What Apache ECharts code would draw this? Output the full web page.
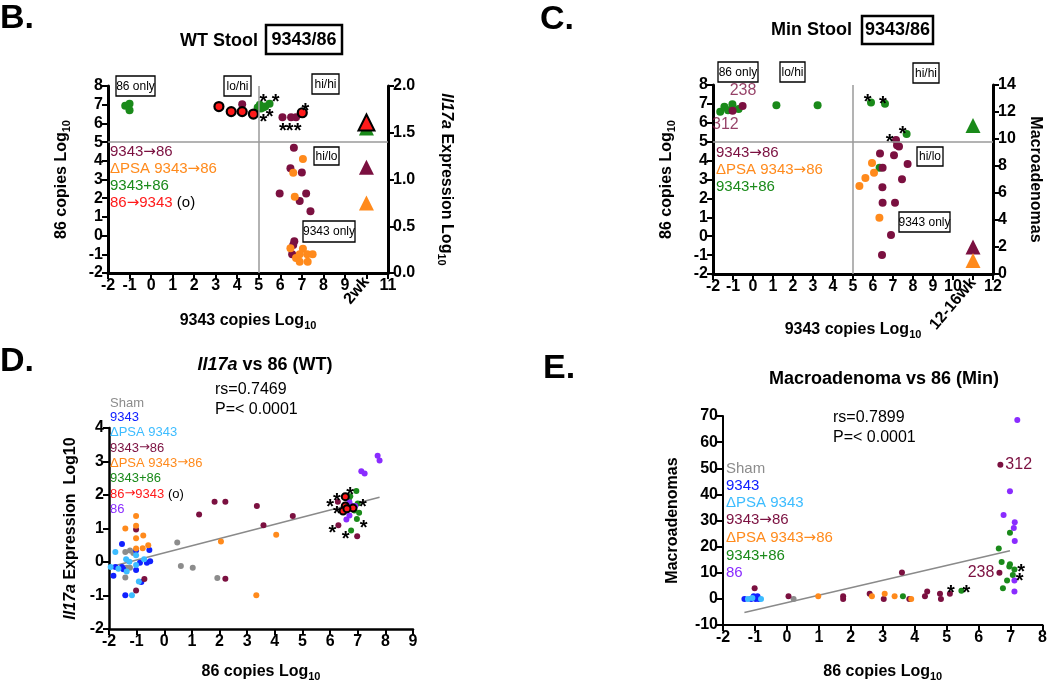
<!DOCTYPE html>
<html><head><meta charset="utf-8">
<script src="https://cdn.jsdelivr.net/npm/echarts@6/dist/echarts.min.js"></script>
<style>html,body{margin:0;padding:0;background:#fff}#c{width:1050px;height:683px}</style>
</head><body><div id="c"></div>
<script>
// ---------------- DATA ----------------
// Panel B (WT stool): x = 9343 copies log10, y = 86 copies log10
const bMaroon = [[4.23,7.03],[6.1,6.33],[6.5,6.33],[6.73,6.33],[6.63,4.7],[6.47,3.6],[7.0,3.38],[5.97,2.25],[7.2,2.25],[6.9,1.85],[7.4,1.3],[6.65,-0.3],[6.6,-0.5],[6.55,-1.0]];
const bOrange = [[7.05,4.1],[6.6,3.36],[6.67,2.08],[6.47,-0.68],[7.05,-0.7],[6.9,-1.0],[6.73,-1.2],[6.9,-1.4],[7.25,-1.0],[7.5,-1.0],[7.27,-1.4]];
const bGreen = [[-1.2,6.95],[-1.0,7.05],[-1.0,6.7],[4.95,6.85],[5.05,7.0],[5.1,6.8],[5.2,6.85],[5.3,6.9],[5.5,7.05]];
const bRed = [[3.15,6.9],[3.72,6.63],[4.23,6.63],[4.75,6.5],[7.02,6.57]];
const bStars = [[5.22,7.43],[5.78,7.43],[5.22,6.36],[5.5,6.63],[6.12,5.91],[6.43,5.91],[6.8,5.91],[7.16,6.98]];
// Il17a expression (right axis) at 2wk
const bTriX = 10;
const bTriGreen = 1.55, bTriRed = 1.61, bTriMaroon = 1.13, bTriOrange = 0.75;
const bXLabelSpecial = {10: '2wk'};

// Panel C (Min stool)
const cGreen = [[-1.64,6.59],[-1.43,6.85],[-1.25,6.67],[-1.03,6.98],[-0.72,6.73],[1.17,6.93],[3.23,6.93],[5.9,7.08],[6.6,7.01],[7.68,5.41],[6.33,3.62]];
const cMaroon = [[-1.02,6.64],[-0.52,6.89],[7.15,5.09],[7.2,4.81],[7.3,4.74],[6.35,4.37],[7.05,4.28],[7.73,3.82],[6.48,3.62],[7.45,3.01],[6.47,2.59],[6.48,1.77],[7.1,1.77],[6.9,0.06],[6.45,-1.0]];
const cOrange = [[5.95,3.87],[6.05,3.36],[5.62,3.08],[5.32,2.66],[6.32,0.98]];
const cStars = [[5.73,7.38],[6.5,7.28],[7.48,5.71],[6.83,5.25]];
const cTags = [[-0.5,7.68,'238'],[-1.38,5.88,'312']];
// Macroadenomas (right axis) at 12-16wk
const cTriX = 11;
const cTriGreen = 11, cTriMaroon = 2, cTriOrange = 1;
const cXLabelSpecial = {11: '12-16wk'};

// Panel D (Il17a vs 86, WT)
const dSham = [[-1.41,0.3],[-1.24,0.34],[-1.12,0.27],[-1.36,-0.17],[-1.24,-0.17],[-1.41,-0.46],[0.47,0.58],[0.6,-0.12],[1.03,-0.17],[1.92,-0.48]];
const d9343 = [[-1.53,0.54],[-0.54,0.36],[-1.02,0.34],[-0.88,-0.02],[-0.63,-0.02],[-0.51,0.02],[-1.77,-0.15],[-1.53,-0.15],[-1.48,-0.22],[-1.02,-0.24],[-1.84,-0.41],[-0.83,-0.6],[-1.41,-0.99]];
const dPsa9343 = [[-1.77,0.3],[-1.38,0.08],[-1.26,0.01],[-1.02,0.2],[-1.02,-0.09],[-0.73,0.08],[-1.94,-0.15],[-1.66,-0.2],[-1.36,-0.28],[-0.92,-0.58],[-1.17,-0.99]];
const dMaroon = [[-1.02,0.97],[-1.02,-0.85],[-0.72,-0.51],[2.21,-0.5],[1.26,1.42],[1.82,1.8],[2.21,1.8],[3.35,1.67],[3.59,1.1],[4.65,1.37],[6.28,1.8],[6.3,1.1],[6.98,0.77]];
const dOrange = [[-1.41,1.0],[-1.02,1.37],[-1.02,1.08],[-1.02,0.71],[-0.76,0.79],[-1.02,0.4],[-0.78,0.41],[-0.58,0.5],[2.05,0.61],[4.05,0.81],[3.33,-0.99]];
const dGreen = [[6.95,2.12],[6.73,1.96],[6.68,1.88],[7.0,1.75],[7.05,1.47],[6.88,1.54],[6.97,1.28],[6.76,0.94]];
const dRed = [[6.55,1.95],[6.55,1.67],[6.47,1.52],[6.83,1.61],[6.61,1.59]];
const dPurple = [[7.72,3.17],[7.79,3.03],[7.13,2.71],[7.25,2.64],[6.7,1.78],[6.76,1.68],[6.59,1.27],[6.7,1.39],[6.91,1.67]];
const dStars = [[6.0,1.8],[6.25,2.0],[6.73,2.15],[7.19,1.82],[6.25,1.59],[6.08,1.02],[6.56,0.86],[7.21,1.18]];
const dFit = [[-1.84,-0.12],[7.79,1.93]];

// Panel E (Macroadenoma vs 86, Min)
const eSham = [[0.21,0]];
const e9343 = [[-1.33,0],[-1.12,0],[-1.04,1],[-0.98,0],[-0.92,1],[-0.88,0]];
const ePsa9343 = [[-1.22,0],[-1.08,0.3],[-0.81,0]];
const eMaroon = [[-1.01,4.1],[0.05,1.0],[1.76,1.0],[1.76,0],[2.59,2.0],[3.03,0],[3.83,0],[3.6,10.1],[4.32,1.0],[4.39,2.85],[4.79,2.0],[4.82,0],[5.1,2.0]];
const eMaroonTagged = [[6.65,10.0,'238'],[6.68,51.3,'312']];
const eOrange = [[0.98,1.0],[2.66,1.0],[3.06,2.0],[3.37,1.0],[3.89,0]];
const eGreen = [[3.63,1.0],[5.46,3.1],[6.98,25.3],[6.63,19.3],[6.72,14.1],[6.98,13.3],[6.96,12.4],[6.76,4.1],[6.89,7.0],[7.07,9.1],[7.12,11.2]];
const ePurple = [[7.21,68.5],[6.98,41.2],[6.78,32.1],[7.13,29.3],[7.1,27.1],[7.13,22.2],[7.12,7.0],[7.12,2.85]];
const eStars = [[5.13,4.5],[5.62,4.5],[7.33,12.5],[7.28,9.1]];
const eFit = [[-1.33,-5.2],[6.98,18.4]];

// ---------------- STYLE ----------------
const FF = 'Liberation Sans, Arial, Helvetica, sans-serif';
const AF = 'DejaVu Sans, Liberation Sans, sans-serif';
const MAROON='#7b1040', ORANGE='#ff8a1c', GREEN='#1a8a1a', RED='#ff1a1a', BLUE='#1020ff', LBLUE='#3cbcff', GRAY='#8c8c8c', PURPLE='#8a2cff';

const chart = echarts.init(document.getElementById('c'), null, {renderer:'canvas'});

function axisBase(lw){
  return {
    axisLine:{show:true,onZero:false,lineStyle:{color:'#000',width:lw}},
    axisTick:{show:true,length:6,lineStyle:{color:'#000',width:2}},
    axisLabel:{color:'#000',fontWeight:'bold',fontSize:16,fontFamily:FF,margin:5},
    splitLine:{show:false}
  };
}
const nameRich = {
  b:{fontSize:16,fontWeight:'bold',fontFamily:FF,color:'#000'},
  i:{fontSize:16,fontWeight:'bold',fontStyle:'italic',fontFamily:FF,color:'#000'},
  s:{fontSize:11,fontWeight:'bold',fontFamily:FF,color:'#000',padding:[9,0,0,0]}
};
function ax(o, lw){ return Object.assign(axisBase(lw||3), o); }

const xAxis = [
  ax({gridIndex:0,type:'value',min:-2,max:11,interval:1,
      axisLabel:Object.assign(axisBase(3).axisLabel,{formatter:v=>bXLabelSpecial[v]?'':v}),
      name:'{b|9343 copies Log}{s|10}',nameLocation:'middle',nameGap:38,nameTextStyle:{rich:nameRich}}),
  {gridIndex:0,type:'value',min:-2,max:11,interval:1,position:'bottom',
      axisLine:{show:false,onZero:false},axisTick:{show:false},splitLine:{show:false},
      axisLabel:{rotate:50,margin:6,color:'#000',fontWeight:'bold',fontSize:16,fontFamily:FF,formatter:v=>bXLabelSpecial[v]||''}},
  ax({gridIndex:1,type:'value',min:-2,max:12,interval:1,
      axisLabel:Object.assign(axisBase(3).axisLabel,{formatter:v=>cXLabelSpecial[v]?'':v}),
      name:'{b|9343 copies Log}{s|10}',nameLocation:'middle',nameGap:46,nameTextStyle:{rich:nameRich}}),
  {gridIndex:1,type:'value',min:-2,max:12,interval:1,position:'bottom',
      axisLine:{show:false,onZero:false},axisTick:{show:false},splitLine:{show:false},
      axisLabel:{rotate:50,margin:6,color:'#000',fontWeight:'bold',fontSize:16,fontFamily:FF,formatter:v=>cXLabelSpecial[v]||''}},
  ax({gridIndex:2,type:'value',min:-2,max:9,interval:1,
      name:'{b|86 copies Log}{s|10}',nameLocation:'middle',nameGap:33,nameTextStyle:{rich:nameRich}},2.5),
  ax({gridIndex:3,type:'value',min:-2,max:8,interval:1,
      name:'{b|86 copies Log}{s|10}',nameLocation:'middle',nameGap:37,nameTextStyle:{rich:nameRich}},2)
];
const yAxis = [
  ax({gridIndex:0,type:'value',min:-2,max:8,interval:1,
      name:'{b|86 copies Log}{s|10}',nameLocation:'middle',nameGap:36,nameTextStyle:{rich:nameRich}}),
  ax({gridIndex:0,type:'value',position:'right',min:0,max:2,interval:0.5,
      axisLabel:Object.assign(axisBase(3).axisLabel,{formatter:v=>v.toFixed(1)}),
      name:'{i|Il17a}{b| Expression Log}{s|10}',nameLocation:'middle',nameRotate:-90,nameGap:48,nameTextStyle:{rich:nameRich}}),
  ax({gridIndex:1,type:'value',min:-2,max:8,interval:1,
      name:'{b|86 copies Log}{s|10}',nameLocation:'middle',nameGap:36,nameTextStyle:{rich:nameRich}}),
  ax({gridIndex:1,type:'value',position:'right',min:0,max:14,interval:2,
      name:'{b|Macroadenomas}',nameLocation:'middle',nameRotate:-90,nameGap:34,nameTextStyle:{rich:nameRich}}),
  ax({gridIndex:2,type:'value',min:-2,max:4,interval:1,
      name:'{i|Il17a}{b| Expression  Log10}',nameLocation:'middle',nameGap:30,nameTextStyle:{rich:nameRich}},2.5),
  ax({gridIndex:3,type:'value',min:-10,max:70,interval:10,
      name:'{b|Macroadenomas}',nameLocation:'middle',nameGap:42,nameTextStyle:{rich:nameRich}},2)
];

function sc(data, xi, yi, color, size, extra, border){
  const s = {type:'scatter', xAxisIndex:xi, yAxisIndex:yi, data:data, symbolSize:size, silent:true,
    itemStyle:{color:color, opacity:1}};
  if (border) { s.itemStyle.borderColor = '#000'; s.itemStyle.borderWidth = border; }
  return Object.assign(s, extra||{});
}
function stars(data, xi, yi, fs){
  return {type:'scatter', xAxisIndex:xi, yAxisIndex:yi, data:data, symbolSize:1, silent:true,
    itemStyle:{color:'rgba(0,0,0,0)'}, z:5,
    label:{show:true, position:'inside', formatter:'*', fontSize:fs, fontWeight:'bold', fontFamily:FF, color:'#000', opacity:1, offset:[0,Math.round(fs*0.28)]}};
}
function tri(x, v, xi, yi, color, border){
  return {type:'scatter', xAxisIndex:xi, yAxisIndex:yi, data:[[x,v]], symbol:'triangle', symbolSize:border?16:15, silent:true,
    itemStyle:{color:color, opacity:1, borderColor:border?'#000':color, borderWidth:border?2:0}};
}
const refLines = {silent:true, symbol:['none','none'], label:{show:false}, animation:false,
  lineStyle:{color:'#9a9a9a', width:1.5, type:'solid'}, data:[{yAxis:5},{xAxis:5}]};

const series = [
  // B
  sc(bMaroon,0,0,MAROON,8),
  sc(bOrange,0,0,ORANGE,8),
  sc(bGreen,0,0,GREEN,8,{markLine:refLines}),
  sc(bRed,0,0,RED,9,null,2.2),
  stars(bStars,0,0,20),
  tri(bTriX,bTriGreen,0,1,GREEN,false),
  tri(bTriX,bTriRed,0,1,RED,true),
  tri(bTriX,bTriMaroon,0,1,MAROON,false),
  tri(bTriX,bTriOrange,0,1,ORANGE,false),
  // C
  sc(cGreen,2,2,GREEN,8,{markLine:refLines}),
  sc(cMaroon,2,2,MAROON,8),
  sc(cOrange,2,2,ORANGE,8),
  stars(cStars,2,2,20),
  {type:'scatter',xAxisIndex:2,yAxisIndex:2,silent:true,symbolSize:1,itemStyle:{color:'rgba(0,0,0,0)'},
   data:cTags,label:{show:true,position:'inside',formatter:p=>p.value[2],fontSize:16,fontFamily:FF,color:MAROON}},
  tri(cTriX,cTriGreen,2,3,GREEN,false),
  tri(cTriX,cTriMaroon,2,3,MAROON,false),
  tri(cTriX,cTriOrange,2,3,ORANGE,false),
  // D
  {type:'line',xAxisIndex:4,yAxisIndex:4,data:dFit,symbol:'none',silent:true,lineStyle:{color:'#8a8a8a',width:1.5},z:1},
  sc(dSham,4,4,GRAY,6),
  sc(d9343,4,4,BLUE,6),
  sc(dPsa9343,4,4,LBLUE,6),
  sc(dMaroon,4,4,MAROON,6),
  sc(dOrange,4,4,ORANGE,6),
  sc(dGreen,4,4,GREEN,6),
  sc(dPurple,4,4,PURPLE,6),
  sc(dRed,4,4,RED,7,null,2),
  stars(dStars,4,4,20),
  // E
  {type:'line',xAxisIndex:5,yAxisIndex:5,data:eFit,symbol:'none',silent:true,lineStyle:{color:'#8a8a8a',width:1.5},z:1},
  sc(eSham,5,5,GRAY,6),
  sc(e9343,5,5,BLUE,6),
  sc(ePsa9343,5,5,LBLUE,6),
  sc(eMaroon,5,5,MAROON,6),
  sc(eOrange,5,5,ORANGE,6),
  sc(eGreen,5,5,GREEN,6),
  sc(ePurple,5,5,PURPLE,6),
  sc(eMaroonTagged.map((d,i)=>({value:[d[0],d[1]],name:d[2],label:{position:i===0?'left':'right'}})),5,5,MAROON,6,
     {label:{show:true,formatter:p=>p.name,fontSize:16,fontFamily:FF,color:MAROON,distance:2}}),
  stars(eStars,5,5,20)
];

// ---------------- GRAPHICS (text) ----------------
const graphics = [];
function T(x,y,text,opt){
  graphics.push({type:'text',x:x,y:y,z:10,style:Object.assign({text:text,fontFamily:FF,fill:'#000',fontSize:15,verticalAlign:'middle',align:'left'},opt||{})});
}
function Box(x,y,w,h,text,fs,lw,fw){
  graphics.push({type:'rect',z:9,shape:{x:x,y:y,width:w,height:h},style:{fill:'#fff',stroke:'#000',lineWidth:lw}});
  T(x+w/2,y+h/2+0.5,text,{align:'center',fontSize:fs,fontWeight:fw||'normal'});
}
function legendRich(parts, fs){
  const rich = {};
  let txt = '';
  parts.forEach((p,k)=>{
    const key = 't'+k;
    rich[key] = {fill:p[1], fontSize:fs, fontFamily:p[2]||FF};
    txt += '{'+key+'|'+p[0]+'}';
  });
  return {text:txt, rich:rich};
}
function L(x,y,parts,fs){
  const r = legendRich(parts,fs);
  T(x,y,r.text,{fontSize:fs,rich:r.rich});
}
const ARW = '\u2192';
// Panel letters
T(0,19,'B.',{fontSize:34,fontWeight:'bold'});
T(540,20,'C.',{fontSize:34,fontWeight:'bold'});
T(0,362,'D.',{fontSize:34,fontWeight:'bold'});
T(543,369,'E.',{fontSize:34,fontWeight:'bold'});
// Titles B, C
T(258,41,'WT Stool',{align:'right',fontSize:18,fontWeight:'bold'});
Box(266,25,76,29,'9343/86',18,2.5,'bold');
T(852,30,'Min Stool',{align:'right',fontSize:18,fontWeight:'bold'});
Box(862,16,71,28,'9343/86',18,2.5,'bold');
// Quadrant boxes B
Box(116,76,39,20,'86 only',12,1.3);
Box(224,76,27,20,'lo/hi',12,1.3);
Box(312,74,27,20,'hi/hi',12,1.3);
Box(314,147,25,18,'hi/lo',12,1.3);
Box(303,221,52,21,'9343 only',12,1.3);
// Quadrant boxes C
Box(718,62,40,20,'86 only',12,1.3);
Box(780,62,25,20,'lo/hi',12,1.3);
Box(913,63,26,20,'hi/hi',12,1.3);
Box(917,147,26,19,'hi/lo',12,1.3);
Box(899,212,51,20,'9343 only',12,1.3);
// Legends B
L(110,152,[['9343',MAROON],[ARW,MAROON,AF],['86',MAROON]],15);
L(110,169,[['\u0394PSA 9343',ORANGE],[ARW,ORANGE,AF],['86',ORANGE]],15);
L(110,186,[['9343+86',GREEN]],15);
L(110,203,[['86',RED],[ARW,RED,AF],['9343',RED],[' (o)','#000']],15);
// Legends C
L(716,153,[['9343',MAROON],[ARW,MAROON,AF],['86',MAROON]],15);
L(716,170,[['\u0394PSA 9343',ORANGE],[ARW,ORANGE,AF],['86',ORANGE]],15);
L(716,187,[['9343+86',GREEN]],15);
// D title & stats
T(265,365,'{i|Il17a}{b| vs 86 (WT)}',{align:'center',rich:{i:{fontSize:18,fontWeight:'bold',fontStyle:'italic',fontFamily:FF,fill:'#000'},b:{fontSize:18,fontWeight:'bold',fontFamily:FF,fill:'#000'}}});
T(215,390,'rs=0.7469',{fontSize:16});
T(215,410,'P=< 0.0001',{fontSize:16});
// D legend
L(110,403,[['Sham',GRAY]],13);
L(110,417,[['9343',BLUE]],13);
L(110,432,[['\u0394PSA 9343',LBLUE]],13);
L(110,448,[['9343',MAROON],[ARW,MAROON,AF],['86',MAROON]],13);
L(110,463,[['\u0394PSA 9343',ORANGE],[ARW,ORANGE,AF],['86',ORANGE]],13);
L(110,478,[['9343+86',GREEN]],13);
L(110,494,[['86',RED],[ARW,RED,AF],['9343',RED],[' (o)','#000']],13);
L(110,509,[['86',PURPLE]],13);
// E title & stats
T(884,379,'Macroadenoma vs 86 (Min)',{align:'center',fontSize:18,fontWeight:'bold'});
T(833,418,'rs=0.7899',{fontSize:16});
T(833,438,'P=< 0.0001',{fontSize:16});
// E legend
L(726,469,[['Sham',GRAY]],15);
L(726,486,[['9343',BLUE]],15);
L(726,503,[['\u0394PSA 9343',LBLUE]],15);
L(726,520,[['9343',MAROON],[ARW,MAROON,AF],['86',MAROON]],15);
L(726,538,[['\u0394PSA 9343',ORANGE],[ARW,ORANGE,AF],['86',ORANGE]],15);
L(726,556,[['9343+86',GREEN]],15);
L(726,573,[['86',PURPLE]],15);

chart.setOption({
  animation:false,
  backgroundColor:'#fff',
  textStyle:{fontFamily:FF},
  grid:[
    {left:108,top:86,width:280,height:187},
    {left:713,top:85,width:280,height:189},
    {left:109,top:428,width:304,height:205},
    {left:723,top:416,width:322,height:217}
  ],
  xAxis:xAxis, yAxis:yAxis, series:series, graphic:graphics
});
</script></body></html>
